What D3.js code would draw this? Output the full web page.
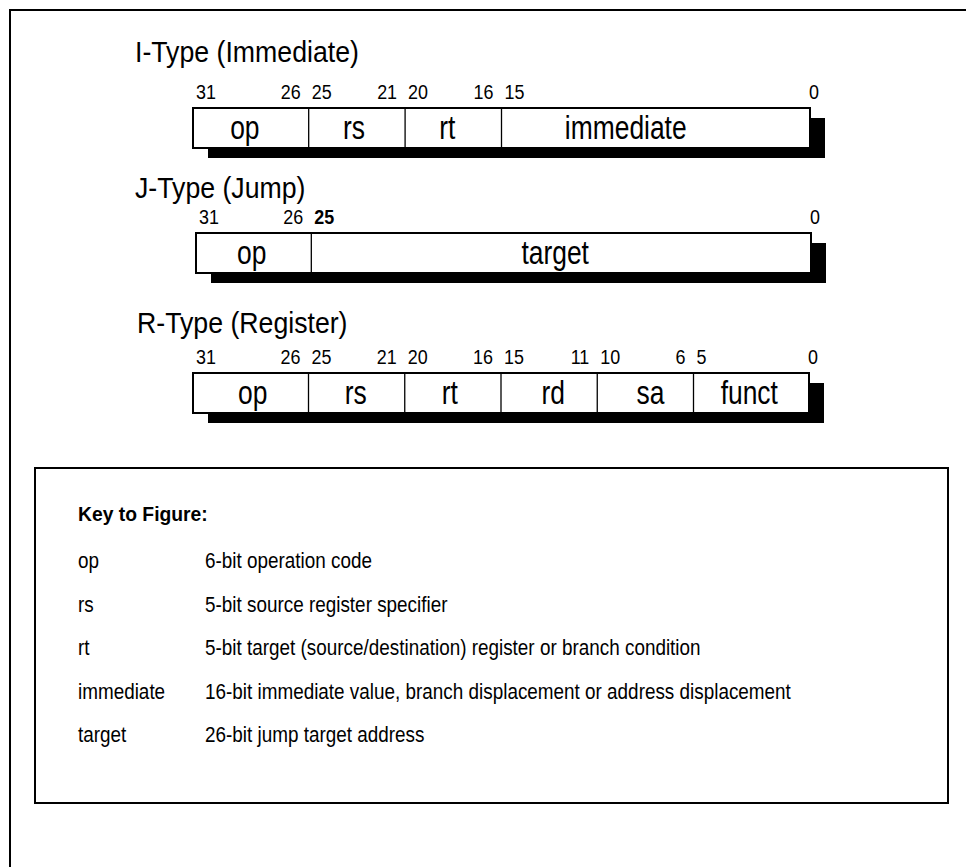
<!DOCTYPE html>
<html>
<head>
<meta charset="utf-8">
<script src="https://cdn.jsdelivr.net/npm/d3@7"></script>
<style>
  html, body { margin: 0; padding: 0; background: #fff; }
  svg { display: block; }
  text { font-family: "Liberation Sans", Arial, Helvetica, sans-serif; fill: #000; }
</style>
</head>
<body>
<svg id="chart" width="966" height="867"></svg>
<script>
// ---------- data ----------
const formatTitles = ["I-Type (Immediate)", "J-Type (Jump)", "R-Type (Register)"];

const iFieldNames = ["op", "rs", "rt", "immediate"];
const iHighBits   = [31, 25, 20, 15];
const iLowBits    = [26, 21, 16, 0];

const jFieldNames = ["op", "target"];
const jHighBits   = [31, 25];
const jLowBits    = [26, 0];
const jBoldBits   = [25];

const rFieldNames = ["op", "rs", "rt", "rd", "sa", "funct"];
const rHighBits   = [31, 25, 20, 15, 10, 5];
const rLowBits    = [26, 21, 16, 11, 6, 0];

const keyTitle = "Key to Figure:";
const keyTerms = ["op", "rs", "rt", "immediate", "target"];
const keyDescriptions = [
  "6-bit operation code",
  "5-bit source register specifier",
  "5-bit target (source/destination) register or branch condition",
  "16-bit immediate value, branch displacement or address displacement",
  "26-bit jump target address"
];

// ---------- layout ----------
const svg = d3.select("#chart");

// outer frame (extends past the right/bottom of the view)
svg.append("rect").attr("x", 10).attr("y", 10).attr("width", 1200).attr("height", 1200)
  .attr("fill", "none").attr("stroke", "#000").attr("stroke-width", 2);

function addText(g, x, y, str, o) {
  return g.append("text")
    .attr("transform", `translate(${x},${y}) scale(${o.sx || 1},1)`)
    .attr("font-size", o.size)
    .attr("text-anchor", o.anchor || "start")
    .attr("font-weight", o.weight || "normal")
    .text(str);
}

const rows = [
  { title: formatTitles[0], names: iFieldNames, high: iHighBits, low: iLowBits, bold: [],
    titleX: 135, titleY: 62, x0: 193, x1: 810, top: 108, labelShift: [-6, -3, -6, -30] },
  { title: formatTitles[1], names: jFieldNames, high: jHighBits, low: jLowBits, bold: jBoldBits,
    titleX: 135, titleY: 198, x0: 196, x1: 811, top: 233, labelShift: [-2, -6] },
  { title: formatTitles[2], names: rFieldNames, high: rHighBits, low: rLowBits, bold: [],
    titleX: 137, titleY: 333, x0: 193, x1: 809, top: 373, labelShift: [2, -1, -3, 4, 5, -2] }
];

const boxH = 40, shadowDx = 15, shadowDy = 10;

rows.forEach(row => {
  const g = svg.append("g");
  const x = d3.scaleLinear().domain([32, 0]).range([row.x0, row.x1]);

  addText(g, row.titleX, row.titleY, row.title, { size: 30, sx: 0.89 });

  // drop shadow
  g.append("rect")
    .attr("x", x(32) + shadowDx).attr("y", row.top + shadowDy)
    .attr("width", x(0) - x(32)).attr("height", boxH)
    .attr("fill", "#000");

  // instruction box
  g.append("rect")
    .attr("x", x(32)).attr("y", row.top)
    .attr("width", x(0) - x(32)).attr("height", boxH)
    .attr("fill", "#fff").attr("stroke", "#000").attr("stroke-width", 2);

  const fields = row.names.map((n, i) => ({ name: n, high: row.high[i], low: row.low[i] }));

  // field dividers
  g.selectAll("line.div").data(fields.slice(1)).join("line")
    .attr("x1", d => x(d.high + 1)).attr("x2", d => x(d.high + 1))
    .attr("y1", row.top).attr("y2", row.top + boxH)
    .attr("stroke", "#000").attr("stroke-width", 1.3);

  // field names
  fields.forEach((d, i) => {
    const cx = (x(d.high + 1) + x(d.low)) / 2 + row.labelShift[i];
    addText(g, cx, row.top + boxH - 9, d.name, { size: 33, sx: 0.8, anchor: "middle" });
  });

  // bit numbers
  const ly = row.top - 9;
  const bitStyle = { size: 19.5, sx: 0.92 };
  fields.forEach(d => {
    addText(g, x(d.high + 1) + 3, ly, String(d.high),
      Object.assign({}, bitStyle, { weight: row.bold.includes(d.high) ? "bold" : "normal" }));
    if (d.low === 0) {
      addText(g, x(0) - 1, ly, String(d.low), bitStyle);
    } else {
      addText(g, x(d.low) - 8, ly, String(d.low), Object.assign({}, bitStyle, { anchor: "end" }));
    }
  });
});

// ---------- key ----------
const key = svg.append("g");
key.append("rect").attr("x", 35).attr("y", 468).attr("width", 913).attr("height", 335)
  .attr("fill", "none").attr("stroke", "#000").attr("stroke-width", 2);

addText(key, 78, 521, keyTitle, { size: 21, sx: 0.92, weight: "bold" });

const keyY = d3.scalePoint().domain(keyTerms).range([568, 742]);
keyTerms.forEach((t, i) => {
  addText(key, 78, keyY(t), t, { size: 22.5, sx: 0.84 });
  addText(key, 205, keyY(t), keyDescriptions[i], { size: 22.5, sx: 0.84 });
});
</script>
</body>
</html>
